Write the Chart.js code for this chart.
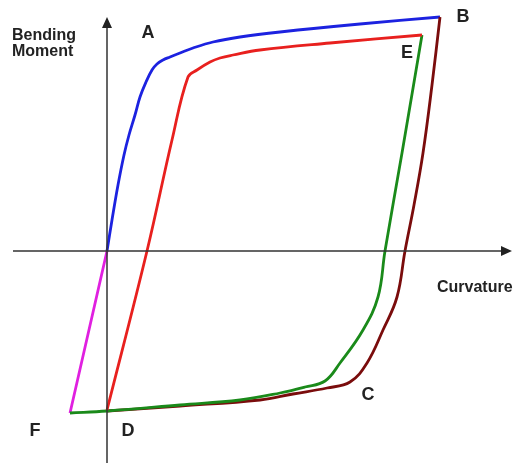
<!DOCTYPE html>
<html>
<head>
<meta charset="utf-8">
<script src="https://cdn.jsdelivr.net/npm/chart.js@4"></script>
<style>
  html, body { margin: 0; padding: 0; background: #fff; }
</style>
</head>
<body>
<canvas id="myChart" width="515" height="465"></canvas>
<script>
// curvature (x) / bending moment (y), arbitrary units, origin at the axes crossing
var blueX  = [0, 0.5, 1.1, 1.7, 2.2, 2.8, 3.3, 3.9, 4.5, 5.0, 5.6, 6.3, 7.3, 8.6, 10.6, 13.3, 17.3, 25.3, 33.3];
var blueY  = [0, 3.1, 6.6, 9.6, 11.6, 13.6, 15.4, 16.9, 18.1, 18.7, 19.1, 19.4, 19.8, 20.3, 20.9, 21.4, 21.9, 22.7, 23.4];

var brownX = [33.3, 32.5, 31.6, 30.7, 29.8, 29.0, 27.6, 26.0, 24.3, 22.0, 18.6, 15.3, 7.3, 0];
var brownY = [23.4, 16.6, 9.8, 4.6, 0, -4.6, -7.9, -11.2, -13.1, -13.7, -14.3, -14.9, -15.5, -16.0];

var redX   = [0, 4.0, 6.5, 8.1, 9.0, 10.3, 11.3, 12.6, 15.3, 22.3, 31.5];
var redY   = [-15.9, 0, 11.1, 17.4, 18.1, 18.9, 19.3, 19.6, 20.1, 20.8, 21.6];

var greenX = [31.5, 29.5, 27.8, 27.1, 25.6, 23.3, 21.8, 19.8, 17.3, 13.3, 7.3, 0, -3.7];
var greenY = [21.6, 9.8, 0, -4.6, -7.9, -11.2, -13.0, -13.6, -14.2, -14.9, -15.4, -16.0, -16.2];

var pinkX  = [-3.7, 0];
var pinkY  = [-16.2, 0];

var pointNames = ['A', 'B', 'C', 'D', 'E', 'F'];
var xTitle = 'Curvature';
var yTitle = ['Bending', 'Moment'];

function pts(xs, ys) {
    return xs.map(function(x, i) { return { x: x, y: ys[i] }; });
}

// axes with arrows and the text labels
var sketchPlugin = {
    id: 'sketch',
    afterDatasetsDraw: function(chart) {
        var ctx = chart.ctx;
        var sx = chart.scales.x, sy = chart.scales.y;
        var x0 = sx.getPixelForValue(0), y0 = sy.getPixelForValue(0);
        var left = sx.getPixelForValue(-9.4), right = sx.getPixelForValue(40.5);
        var top = sy.getPixelForValue(23.4), bottom = sy.getPixelForValue(-21.2);
        ctx.save();
        ctx.strokeStyle = '#333';
        ctx.fillStyle = '#222';
        ctx.lineWidth = 1.5;
        ctx.beginPath();
        ctx.moveTo(left, y0); ctx.lineTo(right - 8, y0);
        ctx.moveTo(x0, bottom); ctx.lineTo(x0, top + 8);
        ctx.stroke();
        // arrow heads
        ctx.beginPath();
        ctx.moveTo(right, y0); ctx.lineTo(right - 11, y0 - 5); ctx.lineTo(right - 11, y0 + 5); ctx.closePath();
        ctx.moveTo(x0, top); ctx.lineTo(x0 - 5, top + 11); ctx.lineTo(x0 + 5, top + 11); ctx.closePath();
        ctx.fill();

        ctx.font = 'bold 16px "Liberation Sans", Arial, sans-serif';
        ctx.textAlign = 'left';
        ctx.textBaseline = 'alphabetic';
        ctx.fillText(yTitle[0], sx.getPixelForValue(-9.5), sy.getPixelForValue(21.1));
        ctx.fillText(yTitle[1], sx.getPixelForValue(-9.5), sy.getPixelForValue(19.5));
        ctx.fillText(xTitle, sx.getPixelForValue(33.0), sy.getPixelForValue(-4.1));

        var spots = [[4.1, 21.8], [35.6, 23.4], [26.1, -14.4], [2.1, -18.0], [30.0, 19.8], [-7.2, -18.0]];
        ctx.font = 'bold 18px "Liberation Sans", Arial, sans-serif';
        ctx.textAlign = 'center';
        ctx.textBaseline = 'middle';
        pointNames.forEach(function(n, i) {
            ctx.fillText(n, sx.getPixelForValue(spots[i][0]), sy.getPixelForValue(spots[i][1]));
        });
        ctx.restore();
    }
};

var line = { borderWidth: 2.8, pointRadius: 0, tension: 0.4, fill: false, showLine: true };

var ctx = document.getElementById('myChart').getContext('2d');
var myChart = new Chart(ctx, {
    type: 'scatter',
    data: {
        datasets: [
            Object.assign({ data: pts(redX, redY),   borderColor: '#e8201e', order: 1 }, line),
            Object.assign({ data: pts(greenX, greenY), borderColor: '#1a8a1a', order: 2 }, line),
            Object.assign({ data: pts(brownX, brownY), borderColor: '#7a0c0c', order: 3 }, line),
            Object.assign({ data: pts(blueX, blueY),  borderColor: '#1c22e0', order: 4 }, line),
            Object.assign({ data: pts(pinkX, pinkY),  borderColor: '#e020e0', order: 5 }, line)
        ]
    },
    options: {
        responsive: false,
        animation: false,
        layout: { padding: 0 },
        plugins: { legend: { display: false }, tooltip: { enabled: false } },
        scales: {
            x: { type: 'linear', display: false, min: -10.7, max: 40.8 },
            y: { type: 'linear', display: false, min: -21.4, max: 25.1 }
        }
    },
    plugins: [sketchPlugin]
});
</script>
</body>
</html>
